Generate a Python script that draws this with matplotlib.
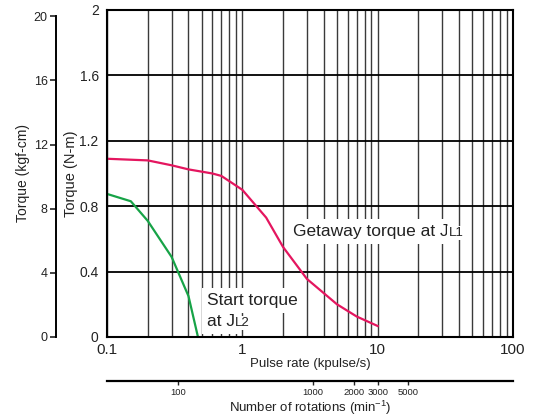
import numpy as np
import matplotlib
matplotlib.use('Agg')
import matplotlib.pyplot as plt
from matplotlib.ticker import FixedLocator, NullFormatter, NullLocator

plt.rcParams['font.family'] = ['Liberation Sans', 'DejaVu Sans']
plt.rcParams['text.color'] = '#222222'
plt.rcParams['axes.labelcolor'] = '#222222'
plt.rcParams['xtick.color'] = '#222222'
plt.rcParams['ytick.color'] = '#222222'

# pull-out torque curves, pulse rate in kpulse/s, torque in N-m
getaway_rate = [0.1, 0.2, 0.3, 0.4, 0.6, 0.7, 1.0, 1.5, 2.0, 3.0, 5.0, 7.0, 10.0]
getaway_torque = [1.09, 1.08, 1.05, 1.025, 1.0, 0.985, 0.9, 0.73, 0.55, 0.355, 0.2, 0.125, 0.067]
start_rate = [0.1, 0.15, 0.2, 0.3, 0.4, 0.47]
start_torque = [0.875, 0.83, 0.71, 0.49, 0.25, 0.0]

rate_ticks = [0.1, 1, 10, 100]
rate_labels = ['0.1', '1', '10', '100']
torque_ticks = [0, 0.4, 0.8, 1.2, 1.6, 2.0]
torque_labels = ['0', '0.4', '0.8', '1.2', '1.6', '2']
kgf_ticks = [0, 4, 8, 12, 16, 20]
rpm_ticks = [100, 1000, 2000, 3000, 5000]

NM_PER_KGFCM = 0.0980665
RPM_PER_KPPS = 300.0   # 1.8 deg/step -> 200 steps/rev

fig = plt.figure(figsize=(5.35, 4.16), dpi=100)
ax = fig.add_axes([0.2, 0.19, 0.7589, 0.786])

ax.set_xscale('log')
ax.set_xlim(0.1, 100)
ax.set_ylim(0, 2)
ax.set_axisbelow(True)

ax.xaxis.set_major_locator(FixedLocator(rate_ticks))
ax.set_xticklabels(rate_labels)
ax.xaxis.set_minor_locator(FixedLocator(
    [m * d for d in (0.1, 1, 10) for m in range(2, 10)]))
ax.xaxis.set_minor_formatter(NullFormatter())
ax.set_yticks(torque_ticks)
ax.set_yticklabels(torque_labels)

ax.grid(True, axis='x', which='both', color='#3a3a3a', lw=1.0)
ax.grid(True, axis='y', which='major', color='black', lw=1.3)
ax.tick_params(axis='both', which='both', length=0)
ax.tick_params(axis='x', labelsize=11, pad=4)
ax.tick_params(axis='y', labelsize=10, pad=6)
for s in ax.spines.values():
    s.set_linewidth(1.5)

ax.plot(getaway_rate, getaway_torque, color='#e4165f', lw=1.6, zorder=2)
ax.plot(start_rate, start_torque, color='#17a347', lw=1.6, zorder=2)

ax.set_xlabel('Pulse rate (kpulse/s)', fontsize=9.5, labelpad=1)
ax.set_ylabel('Torque (N-m)', fontsize=10.5)
ax.yaxis.set_label_coords(-0.071, 0.5)

# curve labels, subscript drawn smaller on the same baseline
box = dict(facecolor='white', edgecolor='none', boxstyle='square,pad=0.3')
box0 = dict(facecolor='white', edgecolor='none', boxstyle='square,pad=0.1')
t1 = ax.text(2.37, 0.618, 'Getaway torque at J', fontsize=12.5,
             va='baseline', ha='left', bbox=box, zorder=3)
ax.annotate('L1', xy=(1, 0), xycoords=t1, fontsize=9.5, va='bottom',
            ha='left', bbox=box0, zorder=3)
ax.text(0.548, 0.196, 'Start torque', fontsize=12.5, va='baseline',
        ha='left', bbox=box, zorder=3)
t2 = ax.text(0.548, 0.067, 'at J', fontsize=12.5, va='baseline',
             ha='left', bbox=box, zorder=3)
ax.annotate('L2', xy=(1, 0), xycoords=t2, fontsize=9.5, va='bottom',
            ha='left', bbox=box0, zorder=3)

# kgf-cm scale on the left
sec_y = ax.secondary_yaxis(-0.1256, functions=(lambda v: v / NM_PER_KGFCM,
                                               lambda v: v * NM_PER_KGFCM))
sec_y.set_yticks(kgf_ticks)
sec_y.set_yticklabels([str(k) for k in kgf_ticks])
sec_y.yaxis.set_minor_locator(NullLocator())
sec_y.spines['left'].set_bounds(0, 20)
sec_y.spines['left'].set_linewidth(1.4)
sec_y.tick_params(axis='y', length=4, width=1.2, labelsize=9, pad=2)
sec_y.set_ylabel('Torque (kgf-cm)', fontsize=10, labelpad=3)

# motor speed scale below
sec_x = ax.secondary_xaxis(-0.1346, functions=(lambda v: v * RPM_PER_KPPS,
                                               lambda v: v / RPM_PER_KPPS))
sec_x.set_xticks(rpm_ticks)
sec_x.set_xticklabels([str(r) for r in rpm_ticks])
sec_x.xaxis.set_minor_locator(NullLocator())
sec_x.spines['bottom'].set_linewidth(1.6)
sec_x.tick_params(axis='x', length=3, width=1.0, pad=2, labelsize=6.8)
sec_x.set_xlabel('Number of rotations (min$^{\\mathregular{-1}}$)',
                 fontsize=9.5, labelpad=1)

fig.savefig('out.png', dpi=100)
